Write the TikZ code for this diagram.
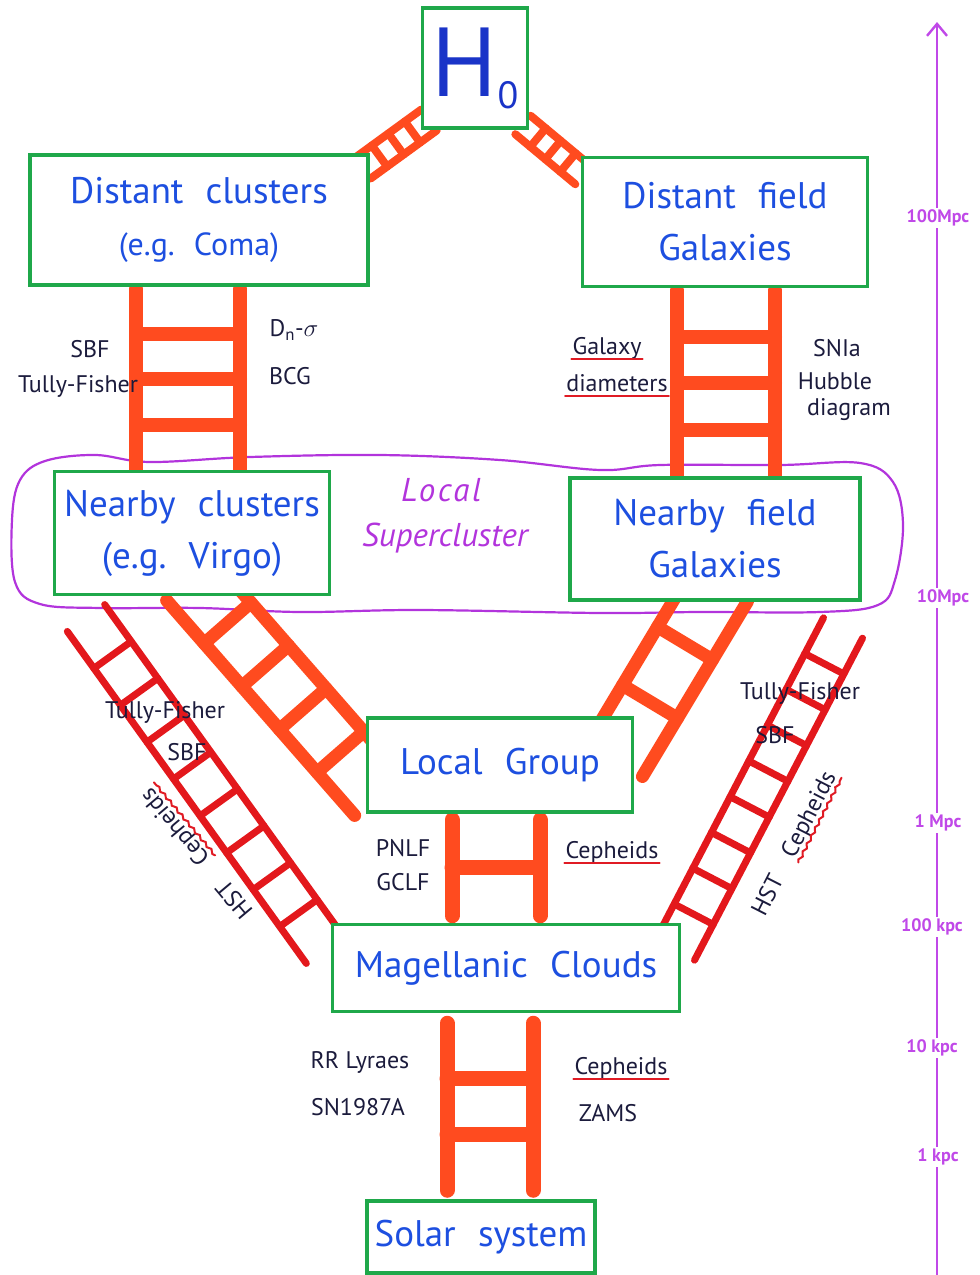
\documentclass[tikz,border=0pt]{standalone}
\usepackage{fontspec}
\setmainfont{PT Sans}
\usepackage{tikz}
\usetikzlibrary{positioning,arrows.meta,calc,backgrounds,decorations.pathmorphing}
\definecolor{boxG}{HTML}{1FA84A}
\definecolor{txtB}{HTML}{1D4FE0}
\definecolor{hubB}{HTML}{1A34C8}
\definecolor{ladOr}{HTML}{FF4B1F}
\definecolor{ladRd}{HTML}{E3181C}
\definecolor{lscV}{HTML}{B234DC}
\definecolor{axV}{HTML}{C048E8}
\definecolor{labN}{HTML}{1B1B3C}
\definecolor{ulR}{HTML}{E01B24}

% wide gap between hand-written words
\newcommand{\wg}{\hspace{0.6em}}
% two rails from #1 to #2, half width #3, #4 rungs, style #5
\newcommand{\ladder}[5]{%
  \draw[#5] ($(#1)!#3!90:(#2)$) -- ($(#2)!#3!-90:(#1)$);
  \draw[#5] ($(#1)!#3!-90:(#2)$) -- ($(#2)!#3!90:(#1)$);
  \foreach \k in {1,...,#4}{
    \pgfmathsetmacro{\rf}{\k/(#4+1)}
    \coordinate (rg) at ($(#1)!\rf!(#2)$);
    \draw[#5] ($(rg)!#3!90:(#2)$) -- ($(rg)!#3!-90:(#2)$);
  }%
}

\begin{document}
\begin{tikzpicture}[x=1pt, y=-1pt,
  every node/.style={font=\fontsize{24}{28}\selectfont, text=labN, inner sep=1pt},
  box/.style={rectangle, draw=boxG, line width=3.5pt, fill=white, align=center,
              text=txtB, font=\fontsize{37}{52}\selectfont},
  lsc/.style={text=lscV, font=\fontsize{33}{36}\selectfont\itshape},
  axlbl/.style={text=axV, fill=white, font=\fontsize{18}{18}\selectfont\bfseries, inner sep=2pt},
  ulr/.style={draw=ulR, line width=2pt, line cap=round},
  wav/.style={ulr, decorate, decoration={snake, amplitude=1.3pt, segment length=9pt}},
  ladO/.style={draw=ladOr, line width=14pt, line cap=round},
  ladR/.style={draw=ladRd, line width=7pt, line cap=round},
  scl/.style={draw=lscV, line width=2.2pt},
  axisl/.style={draw=axV, line width=2.4pt, -{Straight Barb[length=12pt, width=20pt]}}
]
  \useasboundingbox (0,0) rectangle (980,1275);
  % ---- boxes ----
  \node[box, minimum width=105pt, minimum height=120pt, text=hubB] (h0) at (475,68)
       {\fontsize{98}{98}\selectfont H\raisebox{-12pt}{\fontsize{38}{38}\selectfont 0}};
  \node[box, minimum width=338pt, minimum height=130pt] (dcl) at (199,220)
       {Distant\wg clusters\\{\fontsize{32}{40}\selectfont (e.g.\wg Coma)}};
  \node[box, minimum width=285pt, minimum height=129pt] (dfg) at (725,222)
       {Distant\wg field\\Galaxies};
  \node[box, minimum width=275pt, minimum height=123pt] (ncl) at (192,533)
       {Nearby\wg clusters\\(e.g.\wg Virgo)};
  \node[box, minimum width=290pt, minimum height=122pt] (nfg) at (715,539)
       {Nearby\wg field\\Galaxies};
  \node[box, minimum width=265pt, minimum height=94pt] (lgr) at (500,765)
       {Local\wg Group};
  \node[box, minimum width=347pt, minimum height=87pt] (mag) at (506,968)
       {Magellanic\wg Clouds};
  \node[box, minimum width=228pt, minimum height=72pt] (sol) at (481,1237)
       {Solar\wg system};
  % ---- labels ----
  \node (sbfA) at (90,349) {SBF};
  \node (tfA)  at (78,386) {Tully-Fisher};
  \node (dns)  at (294,330) {D\textsubscript{n}-$\sigma$};
  \node (bcg)  at (290,376) {BCG};
  \node (gal)  at (607,348) {Galaxy};
  \node (diam) at (617,383) {diameters};
  \node (snia) at (837,348) {SNIa};
  \node (hub)  at (835,381) {Hubble};
  \node (diag) at (849,410) {diagram};
  \node[lsc] (lscA) at (441,490) {\addfontfeature{LetterSpace=8}Local};
  \node[lsc] (lscB) at (445,538) {Supercluster};
  \node (tfB)  at (165,712) {Tully-Fisher};
  \node (sbfB) at (187,752) {SBF};
  \node[rotate=130] (hstL) at (234,900) {HST};
  \node[rotate=130] (cepL) at (176,826) {Cepheids};
  \node (tfC)  at (800,693) {Tully-Fisher};
  \node (sbfC) at (775,735) {SBF};
  \node[rotate=63] (hstR) at (767,895) {HST};
  \node[rotate=63] (cepR) at (810,815) {Cepheids};
  \node (pnlf) at (403,848) {PNLF};
  \node (gclf) at (403,882) {GCLF};
  \node (cepA) at (612,852) {Cepheids};
  \node (rrl)  at (360,1062) {RR Lyraes};
  \node (sn87) at (358,1107) {SN1987A};
  \node (cepB) at (621,1068) {Cepheids};
  \node (zams) at (608,1113) {ZAMS};
  % ---- underlines ----
  \foreach \u in {gal,diam,cepA,cepB}
    \draw[ulr] ($(\u.base west)!5pt!-90:(\u.base east)$) -- ($(\u.base east)!5pt!90:(\u.base west)$);
  \foreach \u in {cepL,cepR}
    \draw[wav] ($(\u.base west)!5pt!-90:(\u.base east)$) -- ($(\u.base east)!5pt!90:(\u.base west)$);
  % ---- distance scale ----
  \node[axlbl] (ax1) at (938,218)  {100Mpc};
  \node[axlbl] (ax2) at (943,598)  {10Mpc};
  \node[axlbl] (ax3) at (938,823)  {1 Mpc};
  \node[axlbl] (ax4) at (932,927)  {100 kpc};
  \node[axlbl] (ax5) at (932,1048) {10 kpc};
  \node[axlbl] (ax6) at (938,1157) {1 kpc};
  \coordinate (axB) at (937,1275);
  \coordinate (axT) at (937,22);
  % ---- ladder ends ----
  \coordinate (tlA) at (429,120);  \coordinate (tlB) at (363,168);
  \coordinate (trA) at (523,125);  \coordinate (trB) at (583,175);
  \coordinate (vlA) at ($(dcl.south)+(-11,2)$);  \coordinate (vlB) at ($(ncl.north)+(-4,0)$);
  \coordinate (vrA) at ($(dfg.south)+(1,2)$);    \coordinate (vrB) at ($(nfg.north)+(11,0)$);
  \coordinate (dlA) at (190,580);  \coordinate (dlB) at (378,795);
  \coordinate (drA) at (720,585);  \coordinate (drB) at (615,760);
  \coordinate (rlA) at (86,618);   \coordinate (rlB) at (325,950);
  \coordinate (rrA) at (843,628);  \coordinate (rrB) at (675,950);
  \coordinate (mlA) at ($(lgr.south)+(-4,6)$);   \coordinate (mlB) at ($(mag.north)+(-10,-7)$);
  \coordinate (slA) at ($(mag.south)+(-16,10)$); \coordinate (slB) at ($(sol.north)+(9,-9)$);
  \begin{scope}[on background layer]
    % ---- local supercluster ----
    \draw[scl] plot[smooth cycle, tension=0.6] coordinates {
      (45,461) (95,455) (150,462) (250,457) (380,455) (500,460) (600,470) (660,465)
      (780,465) (860,463) (893,482) (903,525) (895,580) (878,605) (820,612) (700,612)
      (600,613) (420,610) (300,612) (200,608) (100,608) (40,604) (15,582) (12,520) (20,480)};
    \draw[axisl] (axB) -- (axT);
    % ---- ladders ----
    \ladder{tlA}{tlB}{13pt}{3}{ladO, line width=8pt}
    \ladder{trA}{trB}{12pt}{3}{ladO, line width=8pt}
    \ladder{vlA}{vlB}{52pt}{3}{ladO}
    \ladder{vrA}{vrB}{49pt}{3}{ladO}
    \ladder{dlA}{dlB}{31pt}{4}{ladO, line width=13pt}
    \ladder{drA}{drB}{32pt}{2}{ladO, line width=13pt}
    \ladder{rlA}{rlB}{23pt}{8}{ladR}
    \ladder{rrA}{rrB}{22pt}{8}{ladR}
    \ladder{mlA}{mlB}{44pt}{1}{ladO, line width=15pt}
    \ladder{slA}{slB}{43pt}{2}{ladO, line width=15pt}
  \end{scope}
\end{tikzpicture}
\end{document}
